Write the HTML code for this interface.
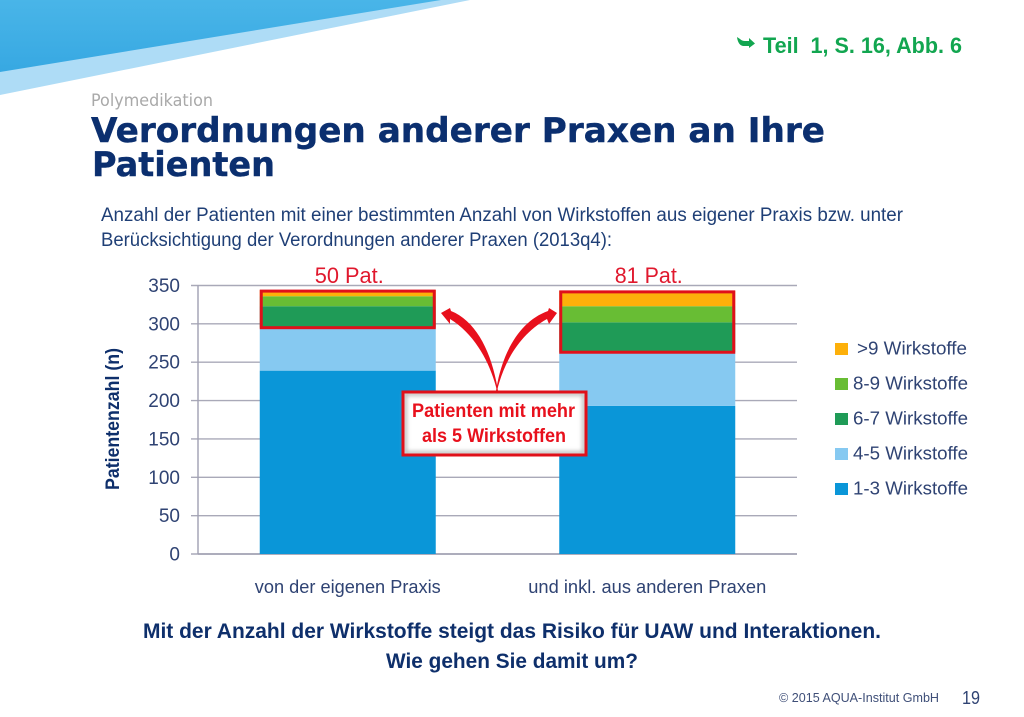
<!DOCTYPE html>
<html lang="de">
<head>
<meta charset="utf-8">
<title>Verordnungen anderer Praxen an Ihre Patienten</title>
<style>
html,body{margin:0;padding:0;background:#fff;width:1024px;height:717px;overflow:hidden}
svg{display:block}
text{font-family:"Liberation Sans",sans-serif}
.dj{font-family:"DejaVu Sans",sans-serif}
</style>
</head>
<body>
<svg id="slide" xmlns="http://www.w3.org/2000/svg" width="1024" height="717" viewBox="0 0 1024 717">
  <defs>
    <linearGradient id="banner" x1="0" y1="0" x2="0" y2="1">
      <stop offset="0" stop-color="#49b5e8"/>
      <stop offset="1" stop-color="#37a8e2"/>
    </linearGradient>
    <filter id="inner" x="-5%" y="-5%" width="110%" height="110%">
      <feGaussianBlur stdDeviation="2.2"/>
    </filter>
  </defs>

  <polygon points="0,0 470,0 0,95" fill="#aedcf6"/>
  <polygon points="0,0 441,0 0,72" fill="url(#banner)"/>

  <g>
    <path d="M737 37 L740 39 Q742 41 745 41 L749 41 L749 38 L755 43.5 L749 48 L749 46 L743 46 Q738 45 737 37 Z" fill="#12a650"/>
    <text x="763" y="53" font-size="22" font-weight="700" fill="#12a650" textLength="199" lengthAdjust="spacingAndGlyphs" xml:space="preserve">Teil  1, S. 16, Abb. 6</text>
  </g>

  <text class="dj" x="91" y="106" font-size="16.5" fill="#a9a9a9" textLength="122" lengthAdjust="spacingAndGlyphs">Polymedikation</text>
  <text class="dj" x="91" y="142" font-size="34" font-weight="700" fill="#0b2f6f" stroke="#0b2f6f" stroke-width="0.4" textLength="734" lengthAdjust="spacingAndGlyphs">Verordnungen anderer Praxen an Ihre</text>
  <text class="dj" x="92" y="176" font-size="34" font-weight="700" fill="#0b2f6f" stroke="#0b2f6f" stroke-width="0.4" textLength="183" lengthAdjust="spacingAndGlyphs">Patienten</text>

  <text x="101" y="221" font-size="19" fill="#1f3f76" textLength="802" lengthAdjust="spacingAndGlyphs">Anzahl der Patienten mit einer bestimmten Anzahl von Wirkstoffen aus eigener Praxis bzw. unter</text>
  <text x="101" y="246" font-size="19" fill="#1f3f76" textLength="511" lengthAdjust="spacingAndGlyphs">Berücksichtigung der Verordnungen anderer Praxen (2013q4):</text>

  <g id="chart"></g>

  <g>
    <path d="M497 391 C491 365 476 335 450 319 L450 324 L441 313 L450 308 L451 311 C476 321 492 352 498 391 Z" fill="#e8101c"/>
    <path d="M497 391 C503 365 518 335 547 319 L549 324 L557 313 L549 308 L548 311 C520 321 502 352 496 391 Z" fill="#e8101c"/>
  </g>

  <g>
    <rect x="403" y="392" width="183" height="63" fill="#ffffff"/>
    <rect x="405" y="394" width="179" height="59" fill="none" stroke="#a9a9a9" stroke-width="3" filter="url(#inner)"/>
    <rect x="403" y="392" width="183" height="63" fill="none" stroke="#e0101a" stroke-width="3"/>
    <text x="412" y="417" font-size="19" font-weight="700" fill="#e8101c" textLength="163" lengthAdjust="spacingAndGlyphs">Patienten mit mehr</text>
    <text x="422" y="442" font-size="19" font-weight="700" fill="#e8101c" textLength="144" lengthAdjust="spacingAndGlyphs">als 5 Wirkstoffen</text>
  </g>

  <text x="143" y="638" font-size="21" font-weight="700" fill="#0e2f6b" textLength="738" lengthAdjust="spacingAndGlyphs">Mit der Anzahl der Wirkstoffe steigt das Risiko für UAW und Interaktionen.</text>
  <text x="386" y="668" font-size="21" font-weight="700" fill="#0e2f6b" textLength="252" lengthAdjust="spacingAndGlyphs">Wie gehen Sie damit um?</text>

  <text x="779" y="702" font-size="12.5" fill="#3f4f78" textLength="160" lengthAdjust="spacingAndGlyphs">© 2015 AQUA-Institut GmbH</text>
  <text x="962" y="704" font-size="18" fill="#2f4373" textLength="18" lengthAdjust="spacingAndGlyphs">19</text>
</svg>

<script>
const categories = ['von der eigenen Praxis', 'und inkl. aus anderen Praxen'];
const seriesNames = ['1-3 Wirkstoffe', '4-5 Wirkstoffe', '6-7 Wirkstoffe', '8-9 Wirkstoffe', '>9 Wirkstoffe'];
const values13 = [239, 193];
const values45 = [56, 70];
const values67 = [28, 39];
const values89 = [13, 21];
const valuesOver9 = [8, 20];
const yTicks = [0, 50, 100, 150, 200, 250, 300, 350];
const highlightLabels = ['50 Pat.', '81 Pat.'];

const seriesValues = [values13, values45, values67, values89, valuesOver9];
const seriesColors = ['#0a96d8', '#86c9f1', '#1f9b57', '#68bd34', '#fdb00a'];
const NS = 'http://www.w3.org/2000/svg';
const chart = document.getElementById('chart');

const plotLeft = 198, plotRight = 797, plotBottom = 554, plotTop = 285.5;
const yMax = 350;
const bandWidth = (plotRight - plotLeft) / categories.length;
const barWidth = 176;
const catWidths = [186, 238];
const labelWidths = [69, 68];

function yScale(v) { return plotBottom - (v / yMax) * (plotBottom - plotTop); }
function xBand(i) { return plotLeft + bandWidth * i + (bandWidth - barWidth) / 2; }

function make(tag, attrs, text) {
  const el = document.createElementNS(NS, tag);
  for (const k in attrs) el.setAttribute(k, attrs[k]);
  if (text !== undefined) el.textContent = text;
  chart.appendChild(el);
  return el;
}

yTicks.forEach(function (t) {
  const y = yScale(t);
  const grid = make('line', { x1: plotLeft - 7, x2: plotRight, y1: y, y2: y, stroke: '#a9a9b8', 'stroke-width': 1.4 });
  
  
  const label = make('text', { x: 180, y: y + 6.5, 'font-size': 19, fill: '#2f4373', 'text-anchor': 'end' }, String(t));
  
  
});

const yAxis = make('line', { x1: plotLeft, x2: plotLeft, y1: plotTop, y2: plotBottom, stroke: '#a0a0b2', 'stroke-width': 1.4 });



const xAxis = make('line', { x1: plotLeft, x2: plotRight, y1: plotBottom, y2: plotBottom, stroke: '#a0a0b2', 'stroke-width': 1.4 });



const yTitle = make('text', { transform: 'translate(119,490) rotate(-90)', 'font-size': 19, 'font-weight': 700, fill: '#0e2f6b', textLength: 142, lengthAdjust: 'spacingAndGlyphs' }, 'Patientenzahl (n)');



categories.forEach(function (cat, i) {
  let base = 0;
  seriesValues.forEach(function (vals, s) {
    const top = base + vals[i];
    const bar = make('rect', { x: xBand(i), y: yScale(top), width: barWidth, height: yScale(base) - yScale(top), fill: seriesColors[s] });
    
    
    base = top;
  });

  const catLabel = make('text', { x: xBand(i) + barWidth / 2, y: 593, 'font-size': 18.5, fill: '#2f4373', 'text-anchor': 'middle', textLength: catWidths[i], lengthAdjust: 'spacingAndGlyphs' }, cat);
  
  
});

categories.forEach(function (cat, i) {
  const lower = values13[i] + values45[i];
  const total = lower + values67[i] + values89[i] + valuesOver9[i];
  const box = make('rect', { x: xBand(i) + 1.5, y: yScale(total) + 1, width: barWidth - 3, height: yScale(lower) - yScale(total) - 1, fill: 'none', stroke: '#e0101a', 'stroke-width': 3 });
  
  

  const hl = make('text', { x: xBand(i) + barWidth / 2 + 1.5, y: 283, 'font-size': 22, fill: '#e0182d', 'text-anchor': 'middle', textLength: labelWidths[i], lengthAdjust: 'spacingAndGlyphs' }, highlightLabels[i]);
  
  
});

seriesNames.forEach(function (name, s) {
  const row = seriesNames.length - 1 - s;
  const cy = 349 + row * 35;
  const swatch = make('rect', { x: 835, y: cy - 6, width: 13, height: 12, fill: seriesColors[s] });
  
  
  const label = make('text', { x: s === 4 ? 857 : 853, y: cy + 5.5, 'font-size': 18, fill: '#2f4373', textLength: s === 4 ? 110 : 115, lengthAdjust: 'spacingAndGlyphs' }, name);
  
  
});
</script>
</body>
</html>
